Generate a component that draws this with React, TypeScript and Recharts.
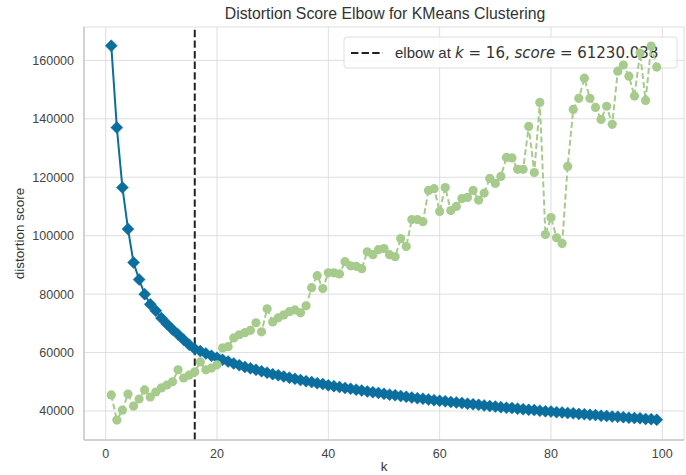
import React from 'react';
import {
  ComposedChart, Line, XAxis, YAxis, CartesianGrid, ReferenceLine, Customized, Label,
} from 'recharts';

const K = [
  1, 2, 3, 4, 5, 6, 7, 8, 9, 10, 11, 12, 13, 14, 15, 16, 17, 18, 19, 20,
  21, 22, 23, 24, 25, 26, 27, 28, 29, 30, 31, 32, 33, 34, 35, 36, 37, 38, 39, 40,
  41, 42, 43, 44, 45, 46, 47, 48, 49, 50, 51, 52, 53, 54, 55, 56, 57, 58, 59, 60,
  61, 62, 63, 64, 65, 66, 67, 68, 69, 70, 71, 72, 73, 74, 75, 76, 77, 78, 79, 80,
  81, 82, 83, 84, 85, 86, 87, 88, 89, 90, 91, 92, 93, 94, 95, 96, 97, 98, 99,
];

const DISTORTION = [
  165000, 137000, 116500, 102300, 90800, 85000, 80000, 76500, 74300, 71800,
  69800, 67900, 66200, 64400, 62700, 61230, 60500, 59700, 58900, 58200,
  57500, 56900, 56300, 55700, 55100, 54600, 54100, 53600, 53100, 52600,
  52200, 51800, 51400, 51000, 50600, 50200, 49900, 49500, 49200, 48800,
  48500, 48200, 47900, 47600, 47300, 47000, 46700, 46400, 46200, 45900,
  45600, 45400, 45100, 44900, 44600, 44400, 44200, 43900, 43700, 43500,
  43300, 43100, 42900, 42700, 42500, 42300, 42100, 41900, 41700, 41500,
  41300, 41100, 41000, 40800, 40600, 40400, 40300, 40100, 39900, 39800,
  39600, 39500, 39300, 39200, 39000, 38900, 38700, 38600, 38400, 38300,
  38100, 38000, 37900, 37700, 37600, 37500, 37300, 37200, 37000,
];

// fit time, plotted on the hidden secondary axis (values read against the left scale)
const FIT_TIME = [
  45500, 36900, 40300, 45800, 41700, 44100, 47200, 44800, 46500, 47900,
  48900, 50000, 54100, 51300, 52300, 53400, 56800, 54100, 54700, 55800,
  61600, 62000, 65000, 66100, 66800, 67600, 70200, 67100, 75000, 70500,
  71900, 72900, 74000, 74600, 73600, 76000, 82200, 86300, 81900, 87300,
  87300, 86900, 91100, 89700, 89500, 88700, 94500, 93500, 95200, 95600,
  93500, 92800, 99000, 96300, 105500, 105500, 104800, 115500, 116100, 108300,
  116500, 108600, 110000, 112700, 113100, 115500, 112200, 114600, 119600, 117900,
  120300, 126800, 126600, 122700, 122700, 137400, 121600, 145600, 100400, 106200,
  99300, 97300, 123700, 143200, 147000, 153900, 147000, 143900, 139800, 144300,
  138100, 156300, 158400, 154600, 147800, 162500, 146300, 164900, 157700,
];

const X_TICKS = [0, 20, 40, 60, 80, 100];
const Y_TICKS = [40000, 60000, 80000, 100000, 120000, 140000, 160000];
const X_DOMAIN = [-3.9, 103.9];
const Y_DOMAIN = [30075, 171425];
const ELBOW_K = 16;
const ELBOW_SCORE = '61230.038';
const TITLE = 'Distortion Score Elbow for KMeans Clustering';

const data = K.map((k, i) => ({ k, distortion: DISTORTION[i], fitTime: FIT_TIME[i] }));

const BLUE = '#0a6f9e';
const GREEN = '#a6cb8c';
const SPINE = '#c9c9c9';
const GRID = '#dedede';
const FONT = '"Liberation Sans", Arial, sans-serif';
const MATH = '"DejaVu Sans", sans-serif';

const Diamond = (props: any) => {
  const { cx, cy } = props;
  if (cx == null || cy == null) return null;
  const r = 6;
  return (
    <path
      d={`M${cx},${cy - r} L${cx + r},${cy} L${cx},${cy + r} L${cx - r},${cy} Z`}
      fill={BLUE}
      stroke={BLUE}
      strokeWidth={0.5}
    />
  );
};

const GreenDot = (props: any) => {
  const { cx, cy } = props;
  if (cx == null || cy == null) return null;
  return <circle cx={cx} cy={cy} r={4.6} fill={GREEN} stroke="none" />;
};

const Title = () => (
  <text x={385} y={19} textAnchor="middle" fontFamily={FONT} fontSize={15.8} fill="#333">
    {TITLE}
  </text>
);

const LegendBox = () => (
  <g>
    <rect x={344} y={37} width={333} height={31} rx={3} fill="#fff" fillOpacity={0.8} stroke="#dddddd" />
    <line x1={351} x2={383} y1={53} y2={53} stroke="#222" strokeWidth={2} strokeDasharray="7.4 3.2" />
    <text x={395} y={58} fontFamily={FONT} fontSize={15} fill="#333">
      <tspan>elbow at </tspan>
      <tspan fontFamily={MATH} fontStyle="italic">k</tspan>
      <tspan fontFamily={MATH}> = {ELBOW_K}, </tspan>
      <tspan fontFamily={MATH} fontStyle="italic">score</tspan>
      <tspan fontFamily={MATH}> = {ELBOW_SCORE}</tspan>
    </text>
  </g>
);

const YLabel = (props: any) => {
  const vb = props.viewBox || { x: 8, y: 27, width: 76, height: 413 };
  const x = vb.x + 11;
  const y = vb.y + vb.height / 2;
  return (
    <text x={x} y={y} transform={`rotate(-90 ${x} ${y})`} textAnchor="middle" dominantBaseline="central"
      fontFamily={FONT} fontSize={13.5} fill="#333">
      distortion score
    </text>
  );
};

export default function App() {
  return (
    <div style={{ position: 'absolute', left: 0, top: 0, width: 686, height: 475, background: '#fff' }}>
      <ComposedChart width={686} height={475} data={data} margin={{ top: 27, right: 2, bottom: 0, left: 8 }}>
        <CartesianGrid stroke={GRID} strokeWidth={1} />
        <XAxis
          dataKey="k" type="number" domain={X_DOMAIN} ticks={X_TICKS} allowDataOverflow
          height={35} tickSize={0} tickMargin={9} tickLine={false}
          axisLine={{ stroke: SPINE, strokeWidth: 1.5 }}
          tick={{ fontFamily: FONT, fontSize: 12.5, fill: '#444' }}
        >
          <Label value="k" position="insideBottom" offset={4} fontFamily={FONT} fontSize={13.5} fill="#333" />
        </XAxis>
        <XAxis xAxisId="top" orientation="top" type="number" domain={X_DOMAIN} height={0}
          tick={false} tickLine={false} axisLine={{ stroke: SPINE, strokeWidth: 1.5 }} />
        <YAxis
          type="number" domain={Y_DOMAIN} ticks={Y_TICKS} allowDataOverflow width={76}
          tickSize={0} tickMargin={10} tickLine={false}
          axisLine={{ stroke: SPINE, strokeWidth: 1.5 }}
          tick={{ fontFamily: FONT, fontSize: 12.5, fill: '#444' }}
          label={<YLabel />}
        />
        <YAxis yAxisId="right" orientation="right" type="number" domain={Y_DOMAIN} allowDataOverflow width={0}
          tick={false} tickLine={false} axisLine={{ stroke: SPINE, strokeWidth: 1.5 }} />
        <Line
          dataKey="distortion" stroke={BLUE} strokeWidth={2} dot={<Diamond />} activeDot={false}
          isAnimationActive={false} type="linear"
        />
        <ReferenceLine x={ELBOW_K} stroke="#222" strokeWidth={2} strokeDasharray="7.4 3.2" />
        <Customized component={LegendBox} />
        <Customized component={Title} />
        <Line
          yAxisId="right" dataKey="fitTime" stroke={GREEN} strokeWidth={2} strokeDasharray="6 3"
          dot={<GreenDot />} activeDot={false} isAnimationActive={false} type="linear"
        />
      </ComposedChart>
    </div>
  );
}
